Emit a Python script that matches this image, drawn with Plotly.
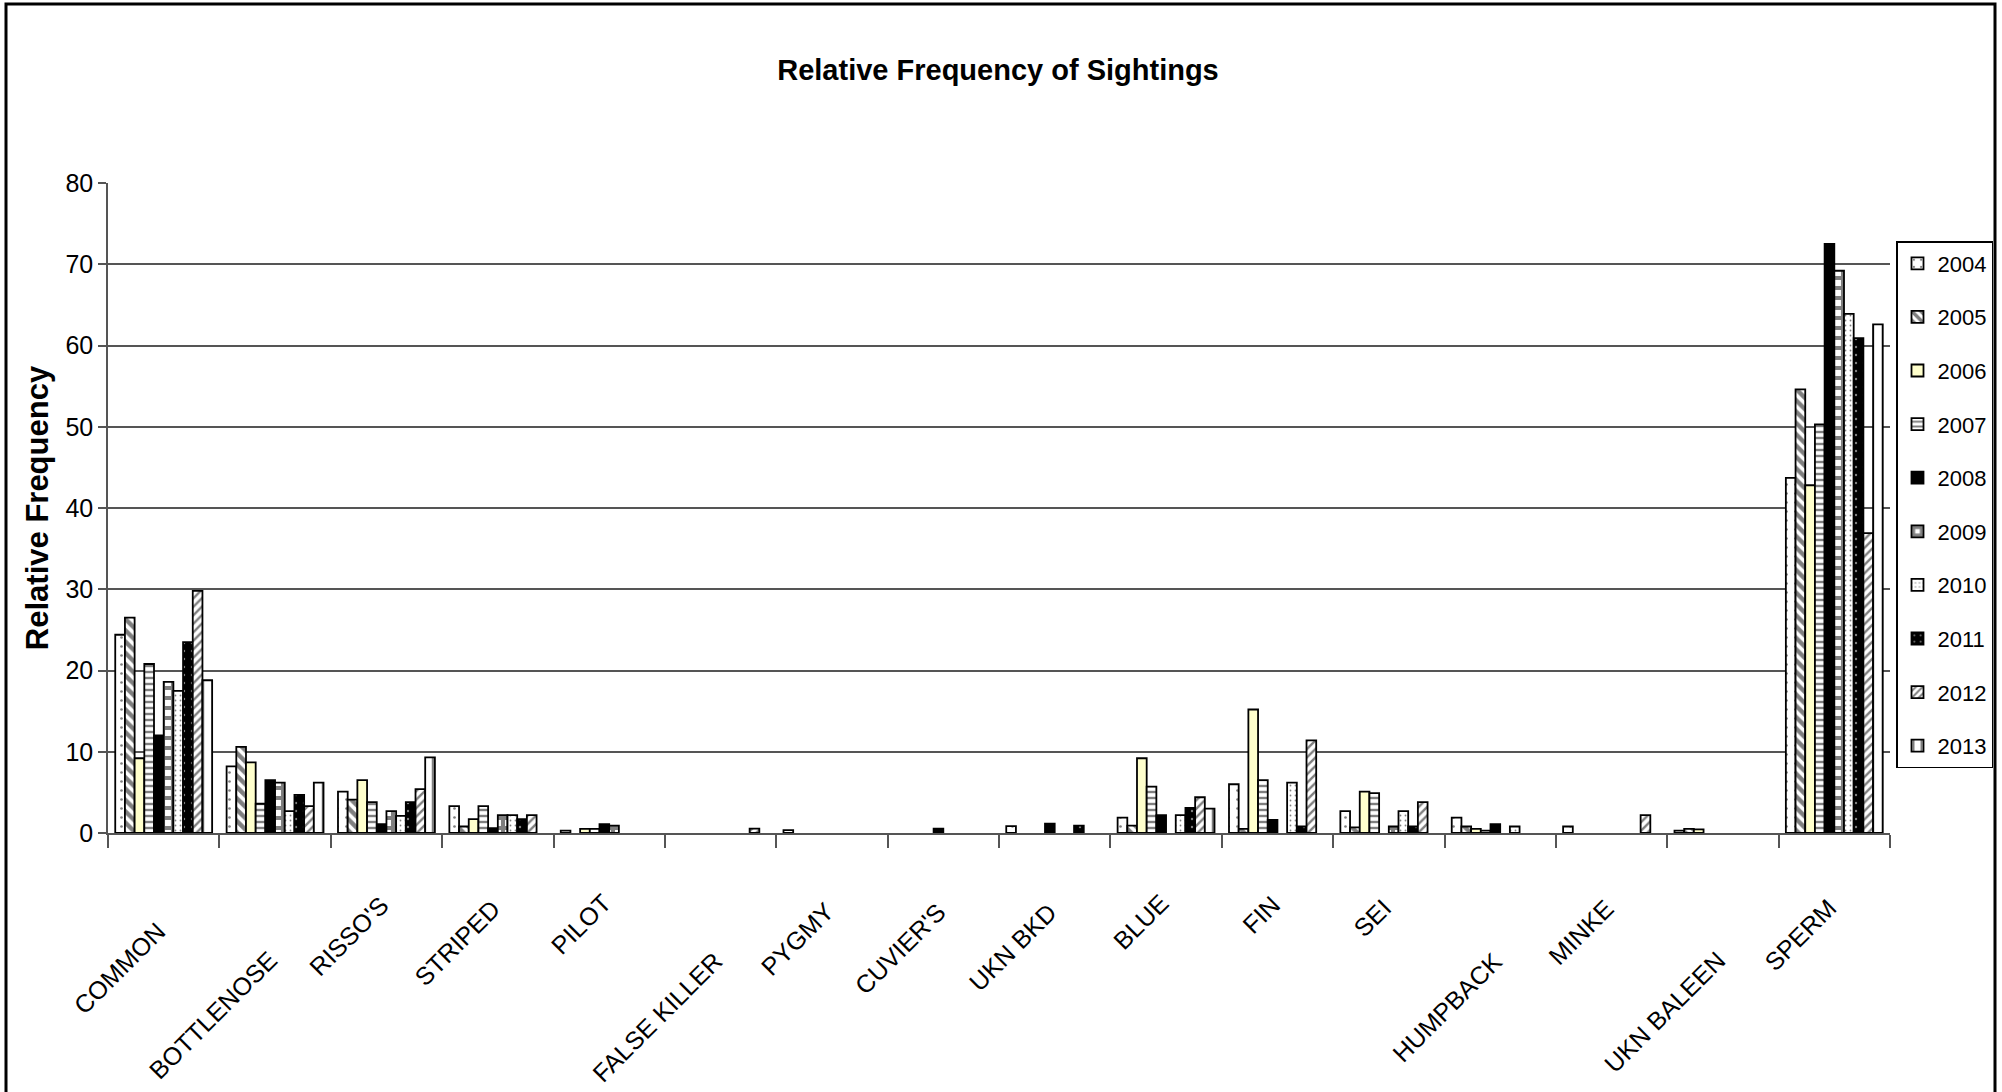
import plotly.graph_objects as go

# Species groups along the x axis
species = ["COMMON", "BOTTLENOSE", "RISSO'S", "STRIPED", "PILOT", "FALSE KILLER",
           "PYGMY", "CUVIER'S", "UKN BKD", "BLUE", "FIN", "SEI", "HUMPBACK",
           "MINKE", "UKN BALEEN", "SPERM"]

years = ["2004", "2005", "2006", "2007", "2008", "2009", "2010", "2011", "2012", "2013"]

# Relative frequency of sightings (%) per year, in species order
freq_2004 = [24.4, 8.2, 5.1, 3.3, 0.3, 0, 0.35, 0, 0.85, 1.9, 6.0, 2.7, 1.9, 0.8, 0.3, 43.7]
freq_2005 = [26.5, 10.6, 4.1, 0.8, 0, 0, 0, 0, 0, 0.9, 0.5, 0.7, 0.8, 0, 0.5, 54.6]
freq_2006 = [9.2, 8.7, 6.5, 1.7, 0.5, 0, 0, 0, 0, 9.2, 15.2, 5.1, 0.5, 0, 0.45, 42.8]
freq_2007 = [20.8, 3.6, 3.8, 3.3, 0.5, 0, 0, 0, 0, 5.7, 6.5, 4.9, 0.3, 0, 0, 50.3]
freq_2008 = [12.0, 6.5, 1.1, 0.6, 1.1, 0, 0, 0.55, 1.15, 2.2, 1.6, 0, 1.1, 0, 0, 72.5]
freq_2009 = [18.6, 6.2, 2.7, 2.2, 0.9, 0, 0, 0, 0, 0, 0, 0.8, 0, 0, 0, 69.2]
freq_2010 = [17.5, 2.7, 2.1, 2.2, 0, 0, 0, 0, 0, 2.2, 6.2, 2.7, 0.8, 0, 0, 63.9]
freq_2011 = [23.5, 4.7, 3.8, 1.7, 0, 0, 0, 0, 0.9, 3.1, 0.8, 0.8, 0, 0, 0, 60.9]
freq_2012 = [29.8, 3.3, 5.4, 2.2, 0, 0.55, 0, 0, 0, 4.4, 11.4, 3.8, 0, 2.2, 0, 36.9]
freq_2013 = [18.8, 6.2, 9.3, 0, 0, 0, 0, 0, 0, 3.0, 0, 0, 0, 0, 0, 62.6]

series = [freq_2004, freq_2005, freq_2006, freq_2007, freq_2008,
          freq_2009, freq_2010, freq_2011, freq_2012, freq_2013]

y_ticks = [0, 10, 20, 30, 40, 50, 60, 70, 80]

FONT = "Liberation Sans, Arial, sans-serif"

# Black-and-white fill styles, one per year
styles = [
    dict(color="white", pattern=dict(shape=".", fgcolor="black", size=9, solidity=0.07, fillmode="overlay")),
    dict(color="white", pattern=dict(shape="\\", fgcolor="black", size=8, solidity=0.55, fillmode="overlay")),
    dict(color="#FFFFCC", pattern=dict(shape="")),
    dict(color="white", pattern=dict(shape="-", fgcolor="black", size=6, solidity=0.4, fillmode="overlay")),
    dict(color="black", pattern=dict(shape="")),
    dict(color="white", pattern=dict(shape="+", fgcolor="black", size=10, solidity=0.65, fillmode="overlay")),
    dict(color="white", pattern=dict(shape=".", fgcolor="black", size=5, solidity=0.1, fillmode="overlay")),
    dict(color="black", pattern=dict(shape=".", fgcolor="white", size=8, solidity=0.07, fillmode="overlay")),
    dict(color="white", pattern=dict(shape="/", fgcolor="black", size=6, solidity=0.4, fillmode="overlay")),
    dict(color="white", pattern=dict(shape="|", fgcolor="black", size=10, solidity=0.25, fillmode="overlay")),
]

fig = go.Figure()
for year, vals, st in zip(years, series, styles):
    # empty bars get no outline so nothing is drawn along the axis
    outline = [1.8 if v > 0 else 0 for v in vals]
    fig.add_trace(go.Bar(
        x=species, y=vals, name=year, legendgroup=year,
        marker=dict(color=st["color"], pattern=st["pattern"],
                    line=dict(color="black", width=outline)),
    ))

# Page geometry (pixels)
W, H = 2002, 1092
L, R, T, B = 108, 112, 183, 259
PW, PH = W - L - R, H - T - B


def px_x(px):
    return (px - L) / PW


def px_y(py):
    return (H - B - py) / PH


# Rotated species labels, staggered like the original layout
label_top_px = [914, 943, 888, 892, 886, 944, 894, 895, 895, 886, 888, 891, 944, 891, 943, 891]
annotations = []
for name, top in zip(species, label_top_px):
    annotations.append(dict(
        x=name, xref="x", y=px_y(top), yref="paper",
        text=name, showarrow=False, textangle=-45,
        xanchor="right", yanchor="top", xshift=10,
        font=dict(family=FONT, size=25, color="black"),
    ))

shapes = [dict(
    type="rect", xref="paper", yref="paper",
    x0=px_x(6), x1=px_x(1995), y0=px_y(1110), y1=px_y(4),
    line=dict(color="black", width=3), fillcolor="rgba(0,0,0,0)", layer="above",
)]

fig.update_layout(
    width=W, height=H,
    margin=dict(l=L, r=R, t=T, b=B, autoexpand=False),
    paper_bgcolor="white", plot_bgcolor="white",
    barmode="group", bargap=0.13, bargroupgap=0,
    title=dict(text="<b>Relative Frequency of Sightings</b>", x=0.4985, xanchor="center",
               y=1 - 70 / H, yanchor="middle",
               font=dict(family=FONT, size=29, color="black")),
    font=dict(family=FONT, color="black"),
    legend=dict(x=px_x(1896), xanchor="left", y=px_y(241), yanchor="top",
                bordercolor="black", borderwidth=1.5, bgcolor="white",
                font=dict(family=FONT, size=22, color="black"),
                tracegroupgap=22, itemwidth=30),
    annotations=annotations,
    shapes=shapes,
)

fig.update_xaxes(
    type="category", range=[-0.5, len(species) - 0.5], autorange=False,
    showticklabels=False, showgrid=False,
    showline=True, linecolor="#555555", linewidth=1.5,
    ticks="outside", tickson="boundaries", ticklen=13, tickcolor="#555555", tickwidth=1.5,
)
fig.update_yaxes(
    range=[0, 80], tickvals=y_ticks, showgrid=True, gridcolor="#555555", gridwidth=1.5,
    showline=True, linecolor="#555555", linewidth=1.5,
    ticks="outside", ticklen=8, tickcolor="#555555", tickwidth=1.5,
    tickfont=dict(family=FONT, size=25, color="black"),
    zeroline=False,
    title=dict(text="<b>Relative Frequency</b>", standoff=8,
               font=dict(family=FONT, size=31, color="black")),
)

fig.write_html("out.html")
